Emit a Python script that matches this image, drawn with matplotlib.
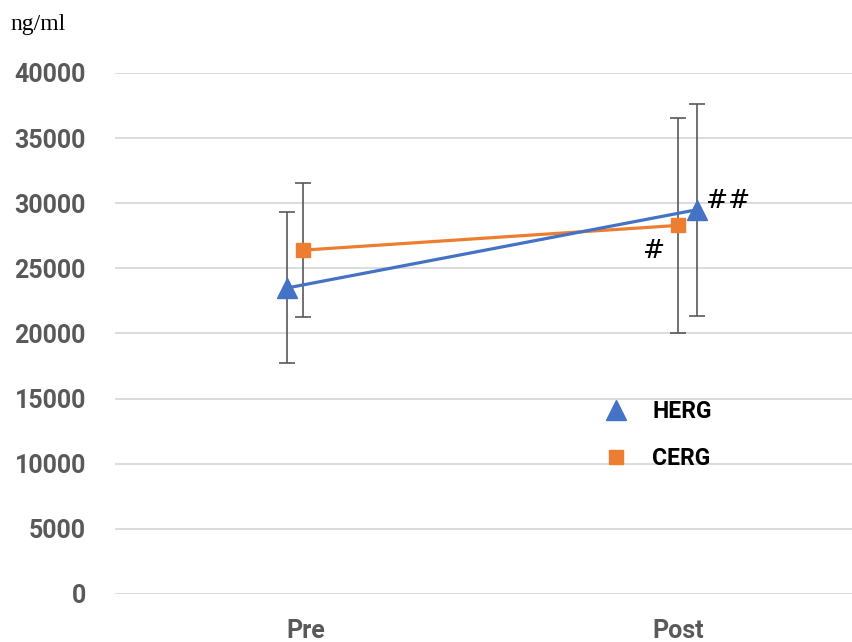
import numpy as np
import matplotlib.pyplot as plt

# --- data ---
categories = ["Pre", "Post"]
herg_mean = [23500, 29500]
herg_sd = [5800, 8150]
cerg_mean = [26400, 28300]
cerg_sd = [5150, 8250]

# small horizontal shifts so the error bars do not overlap
herg_shift = [-0.048, 0.05]
cerg_shift = [-0.005, 0.0]

blue = "#4472C4"
orange = "#ED7D31"
grey = "#595959"

fig = plt.figure(figsize=(8.53, 6.42), dpi=100)
ax = fig.add_axes([0.135, 0.0748, 0.865, 0.8115])

x = np.arange(len(categories))
xh = x + np.array(herg_shift)
xc = x + np.array(cerg_shift)

ax.errorbar(xc, cerg_mean, yerr=cerg_sd, fmt="none", ecolor=grey,
            elinewidth=1.2, capsize=6, capthick=1.2, zorder=2)
ax.errorbar(xh, herg_mean, yerr=herg_sd, fmt="none", ecolor=grey,
            elinewidth=1.2, capsize=6, capthick=1.2, zorder=2)
ax.plot(xc, cerg_mean, color=orange, lw=2.3, marker="s", ms=10,
        label="CERG", zorder=3)
ax.plot(xh, herg_mean, color=blue, lw=2.3, marker="^", ms=15,
        label="HERG", zorder=4)

ax.text(xh[1] + 0.025, herg_mean[1] + 700, "##", fontsize=19,
        family="DejaVu Serif", va="center", ha="left")
ax.text(xc[1] - 0.035, cerg_mean[1] - 1900, "#", fontsize=19,
        family="DejaVu Serif", va="center", ha="right")

ax.set_xlim(-0.51, 1.469)
ax.set_ylim(0, 40000)
ax.set_yticks(np.arange(0, 40001, 5000))
ax.set_xticks(x)
ax.set_xticklabels(categories)
ax.grid(axis="y", color="#D9D9D9", lw=1.3)
ax.set_axisbelow(True)
for s in ax.spines.values():
    s.set_visible(False)
ax.tick_params(length=0)
ax.tick_params(axis="y", pad=21)
ax.tick_params(axis="x", pad=18)
for lab in ax.get_yticklabels() + ax.get_xticklabels():
    lab.set_fontsize(18)
    lab.set_fontweight("bold")
    lab.set_color(grey)
    lab.set_family("Roboto")

h, l = ax.get_legend_handles_labels()
leg = ax.legend(h[::-1], l[::-1], loc="center left",
                bbox_to_anchor=(0.635, 0.306), frameon=False,
                prop={"family": "Roboto", "weight": "bold", "size": 16.5},
                handlelength=1.0, handletextpad=1.1, labelspacing=1.05)
for line in leg.get_lines():
    line.set_linestyle("none")

fig.text(0.012, 0.962, "ng/ml", fontsize=17, family="Liberation Serif",
         va="center", ha="left")

fig.savefig("out.png", dpi=100)
